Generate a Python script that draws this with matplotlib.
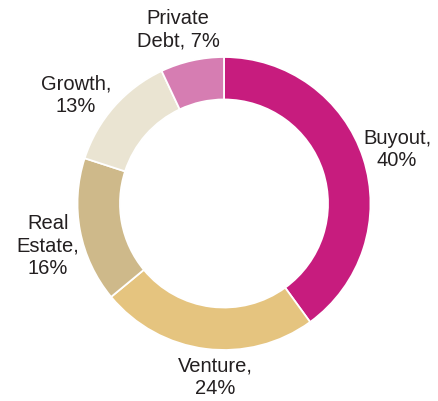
import matplotlib
matplotlib.use("Agg")
import matplotlib.pyplot as plt

categories = ["Buyout", "Venture", "Real\nEstate", "Growth", "Private\nDebt"]
shares = [40, 24, 16, 13, 7]
colors = ["#C71C7E", "#E5C47F", "#CEB98A", "#EAE4D2", "#D67DB2"]

# label centre positions in pixel coordinates (layout only)
label_pos = [(397, 251), (215, 24), (48, 155), (76, 306), (178, 371)]

W, H = 439, 401
fig = plt.figure(figsize=(W / 100, H / 100), dpi=100)
ax = fig.add_axes([0, 0, 1, 1])

cx, cy, R = 224, 197.5, 146.5
wedges, _ = ax.pie(shares, colors=colors, startangle=90, counterclock=False,
                   center=(cx, cy), radius=R, frame=True,
                   wedgeprops=dict(width=R * 0.29, edgecolor="white", linewidth=1.3))
ax.set_xlim(0, W)
ax.set_ylim(0, H)
ax.axis("off")

for cat, val, (x, y) in zip(categories, shares, label_pos):
    if cat.startswith("Real"):
        txt = f"Real\nEstate,\n{val}%"
    elif "\n" in cat:
        first, second = cat.split("\n")
        txt = f"{first}\n{second}, {val}%"
    else:
        txt = f"{cat},\n{val}%"
    ax.text(x, y, txt, ha="center", va="center", fontsize=14.5,
            family="Liberation Sans", color="#231F20", linespacing=1.2)

fig.savefig("out.png", dpi=100)
